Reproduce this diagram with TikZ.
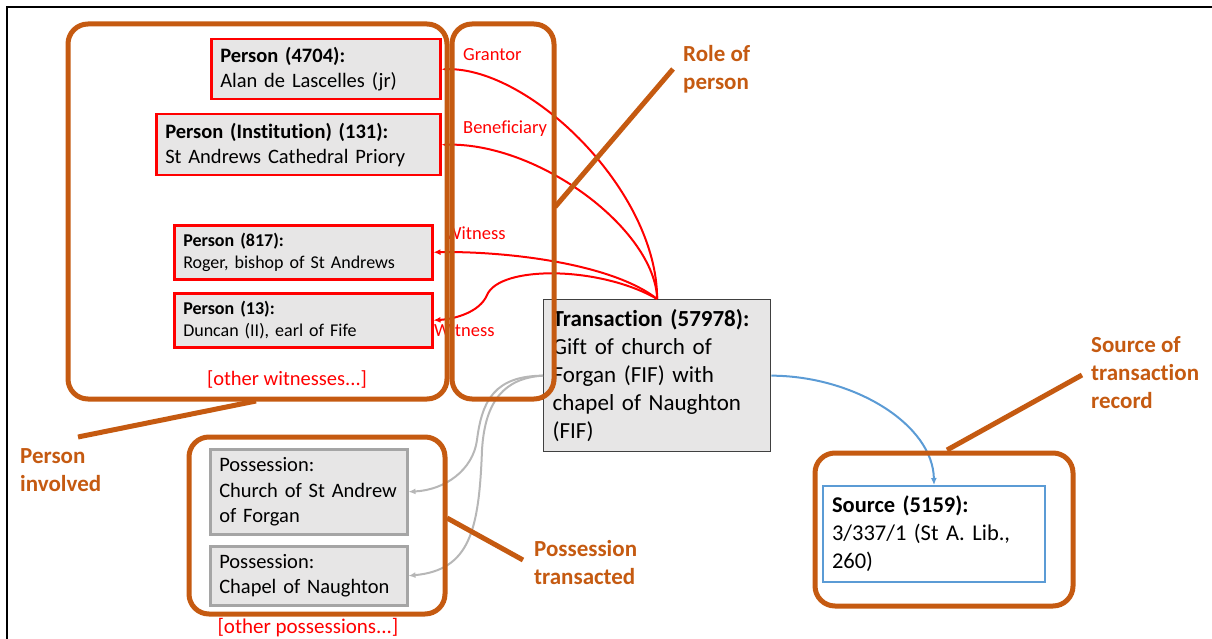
\documentclass[tikz,border=0pt]{standalone}
\usepackage{fontspec}
\setmainfont{Carlito}[Ligatures=NoCommon]
\usetikzlibrary{arrows.meta}
\definecolor{org}{HTML}{C55A11}
\definecolor{gfill}{HTML}{E7E6E6}
\definecolor{pgray}{HTML}{A5A5A5}
\definecolor{blu}{HTML}{5B9BD5}
\definecolor{tborder}{HTML}{404040}
\begin{document}
\begin{tikzpicture}[x=1pt,y=-1pt,
  pbox/.style={draw=red, line width=2.5pt, fill=gfill, inner xsep=9pt, inner ysep=0pt, align=left, anchor=north west},
  possbox/.style={draw=pgray, line width=2.5pt, fill=gfill, inner xsep=9pt, inner ysep=0pt, align=left, anchor=north west},
  transbox/.style={draw=tborder, line width=1.3pt, fill=gfill, inner xsep=9pt, inner ysep=0pt, align=left, anchor=north west},
  srcbox/.style={draw=blu, line width=2pt, fill=white, inner xsep=9pt, inner ysep=0pt, align=left, anchor=north west},
  grp/.style={draw=org, line width=5pt, rounded corners=20pt},
  optr/.style={draw=org, line width=5pt},
  olabel/.style={text=org, font=\fontsize{23}{28}\selectfont\bfseries, align=left, anchor=west, inner sep=0pt},
  rlabel/.style={text=red, font=\fontsize{18.5}{22}\selectfont, anchor=west, inner sep=0pt},
  redarr/.style={draw=red, line width=2pt, -{Latex[length=7pt,width=6pt]}},
  grayarr/.style={draw=pgray!80, line width=2pt, -{Latex[length=7pt,width=6pt]}},
  bluarr/.style={draw=blu, line width=2pt, -{Latex[length=7pt,width=6pt]}},
  bigf/.style={font=\fontsize{20.5}{25}\selectfont},
  smallf/.style={font=\fontsize{18}{22}\selectfont},
]
\useasboundingbox (0,0) rectangle (1212,639);
\draw[line width=1.2pt] (1212,7) -- (7,7) -- (7,639);

% person boxes
\node[pbox, bigf, minimum width=229pt, minimum height=60pt, text width=211pt] (p4704) at (210,38)
  {\textbf{Person (4704):}\\Alan de Lascelles (jr)};
\node[pbox, bigf, minimum width=284pt, minimum height=61pt, text width=266pt] (p131) at (155,113)
  {\textbf{Person (Institution) (131):}\\St Andrews Cathedral Priory};
\node[pbox, smallf, minimum width=258pt, minimum height=54pt, text width=240pt] (p817) at (173,224)
  {\textbf{Person (817):}\\Roger, bishop of St Andrews};
\node[pbox, smallf, minimum width=258pt, minimum height=54pt, text width=240pt] (p13) at (173,292)
  {\textbf{Person (13):}\\Duncan (II), earl of Fife};
\node[text=red, font=\fontsize{20.5}{25}\selectfont, inner sep=0pt] (otherw) at (287,379) {[other witnesses...]};

% transaction
\node[transbox, font=\fontsize{23}{28}\selectfont, minimum width=227pt, minimum height=152pt, text width=209pt] (tr) at (543,299)
  {\textbf{Transaction (57978):}\\Gift of church of\\Forgan (FIF) with\\chapel of Naughton\\(FIF)};

% possessions
\node[possbox, font=\fontsize{20.5}{25.5}\selectfont, minimum width=197pt, minimum height=85pt, text width=179pt] (pos1) at (209,448)
  {Possession:\\Church of St Andrew\\of Forgan};
\node[possbox, font=\fontsize{20.5}{25.5}\selectfont, minimum width=197pt, minimum height=59pt, text width=179pt] (pos2) at (209,545)
  {Possession:\\Chapel of Naughton};
\node[text=red, font=\fontsize{21}{25}\selectfont, inner sep=0pt] (otherp) at (308,628) {[other possessions...]};

% source
\node[srcbox, font=\fontsize{22.5}{28}\selectfont, minimum width=222pt, minimum height=96pt, text width=204pt] (src) at (822,485)
  {\textbf{Source (5159):}\\3/337/1 (St A. Lib.,\\260)};

% red connectors
\draw[redarr] (tr.north) .. controls (657,190) and (530,68) .. (p4704.east);
\draw[redarr] (tr.north) .. controls (655,230) and (540,143) .. (p131.east);
\draw[redarr] (tr.north) .. controls (610,262) and (500,251) .. (p817.east);
\draw[redarr] (tr.north) .. controls (600,266) and (500,265) .. (487,295) .. controls (480,312) and (455,319) .. (p13.east);

% gray connectors
\draw[grayarr] (tr.west) .. controls (495,376) and (482,400) .. (477,440) .. controls (473,470) and (445,490) .. (pos1.east);
\draw[grayarr] (tr.west) .. controls (505,378) and (485,400) .. (482,450) .. controls (479,530) and (470,570) .. (pos2.east);

% blue connector
\draw[bluarr] (tr.east) .. controls (855,376) and (933,425) .. (src.north);

% role labels
\node[rlabel] (lgrant) at (463,55) {Grantor};
\node[rlabel] (lbenef) at (463,129) {Beneficiary};
\node[rlabel] (lwit1) at (445,233) {Witness};
\node[rlabel] (lwit2) at (434,330) {Witness};

% orange groups
\draw[grp] (68,24) rectangle (447,399);
\draw[grp] (452,24) rectangle (554,399);
\draw[grp] (189,437) rectangle (445,614);
\draw[grp] (815,453) rectangle (1073,606);

% orange annotation labels
\node[olabel] (lrole) at (683,69) {Role of\\person};
\node[olabel] (lperson) at (20,470) {Person\\involved};
\node[olabel] (lposs) at (534,563) {Possession\\transacted};
\node[olabel] (lsrc) at (1091,373) {Source of\\transaction\\record};

\coordinate (c1a) at (673,69); \coordinate (c1b) at (555,207);
\coordinate (c2a) at (78,437); \coordinate (c2b) at (256,401);
\coordinate (c3a) at (447,518); \coordinate (c3b) at (523,560);
\coordinate (c4a) at (947,450); \coordinate (c4b) at (1082,375);
\draw[optr] (c1a) -- (c1b);
\draw[optr] (c2a) -- (c2b);
\draw[optr] (c3a) -- (c3b);
\draw[optr] (c4a) -- (c4b);
\end{tikzpicture}
\end{document}
